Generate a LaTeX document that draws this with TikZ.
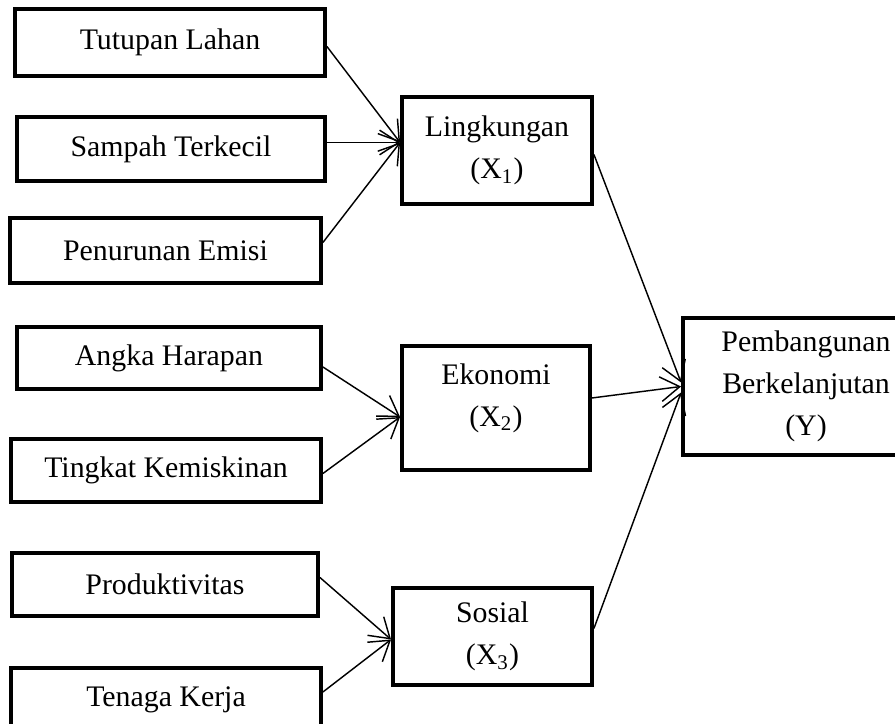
\documentclass[tikz,border=0pt]{standalone}
\usepackage{fontspec}
\setmainfont{Liberation Serif}
\usetikzlibrary{arrows.meta, calc, positioning}
\newcommand{\pxu}{0.0146cm}

\begin{document}
\begin{tikzpicture}[x=\pxu, y=-\pxu, >={Straight Barb[length=2.8mm, width=3.6mm]},
    box/.style={draw, line width=1.6pt, inner sep=0pt, align=center,
        font=\fontsize{12.4}{17.5}\selectfont},
    link/.style={->, line width=0.6pt}]
                \useasboundingbox (0,0) rectangle (895,724);

                % Indicators
                \node[box, minimum width=310*\pxu, minimum height=67*\pxu] (tutupan) at (170,42.5) {Tutupan Lahan};
                \node[box, minimum width=308*\pxu, minimum height=64*\pxu] (sampah) at (171,149) {Sampah Terkecil};
                \node[box, minimum width=311*\pxu, minimum height=65*\pxu] (penurunan) at (165.5,250.5) {Penurunan Emisi};
                \node[box, minimum width=304*\pxu, minimum height=62*\pxu] (angka) at (169,358) {Angka Harapan};
                \node[box, minimum width=310*\pxu, minimum height=63*\pxu] (tingkat) at (166,470.5) {Tingkat Kemiskinan};
                \node[box, minimum width=306*\pxu, minimum height=63*\pxu] (produktivitas) at (165,584.5) {Produktivitas};
                \node[box, minimum width=310*\pxu, minimum height=64*\pxu] (tenaga) at (166,700) {Tenaga Kerja};

                % Variables
                \node[box, minimum width=190*\pxu, minimum height=107*\pxu] (lingkungan) at (497,150.5) {Lingkungan\\(X\textsubscript{1})};
                \node[box, minimum width=188*\pxu, minimum height=124*\pxu, text depth=26*\pxu] (ekonomi) at (496,408) {Ekonomi\\(X\textsubscript{2})};
                \node[box, minimum width=199*\pxu, minimum height=97*\pxu] (sosial) at (492.5,636.5) {Sosial\\(X\textsubscript{3})};
                \node[box, minimum width=246*\pxu, minimum height=137*\pxu] (pembangunan) at (806,386.5) {Pembangunan\\Berkelanjutan\\(Y)};

                % Arrow tips
                \coordinate (tipL) at ($(lingkungan.west)+(0,-8)$);
                \coordinate (tipE) at ($(ekonomi.west)+(0,9)$);
                \coordinate (tipS) at ($(sosial.west)+(0,3)$);

                % Indicators to variables
                \draw[link] ($(tutupan.east)+(0,4)$) -- (tipL);
                \draw[link] (sampah.east |- tipL) -- (tipL);
                \draw[link] ($(penurunan.east)+(0,-8)$) -- (tipL);
                \draw[link] ($(angka.east)+(0,9)$) -- (tipE);
                \draw[link] ($(tingkat.east)+(0,3)$) -- (tipE);
                \draw[link] ($(produktivitas.east)+(0,-7)$) -- (tipS);
                \draw[link] ($(tenaga.east)+(0,-8)$) -- (tipS);

                % Variables to Y
                \draw[link] ($(lingkungan.east)+(0,4)$) -- ($(pembangunan.west)+(0,-4)$);
                \draw[link] ($(ekonomi.east)+(0,-10)$) -- (pembangunan.west);
                \draw[link] ($(sosial.east)+(0,-8)$) -- ($(pembangunan.west)+(0,6)$);
            \end{tikzpicture}
\end{document}
